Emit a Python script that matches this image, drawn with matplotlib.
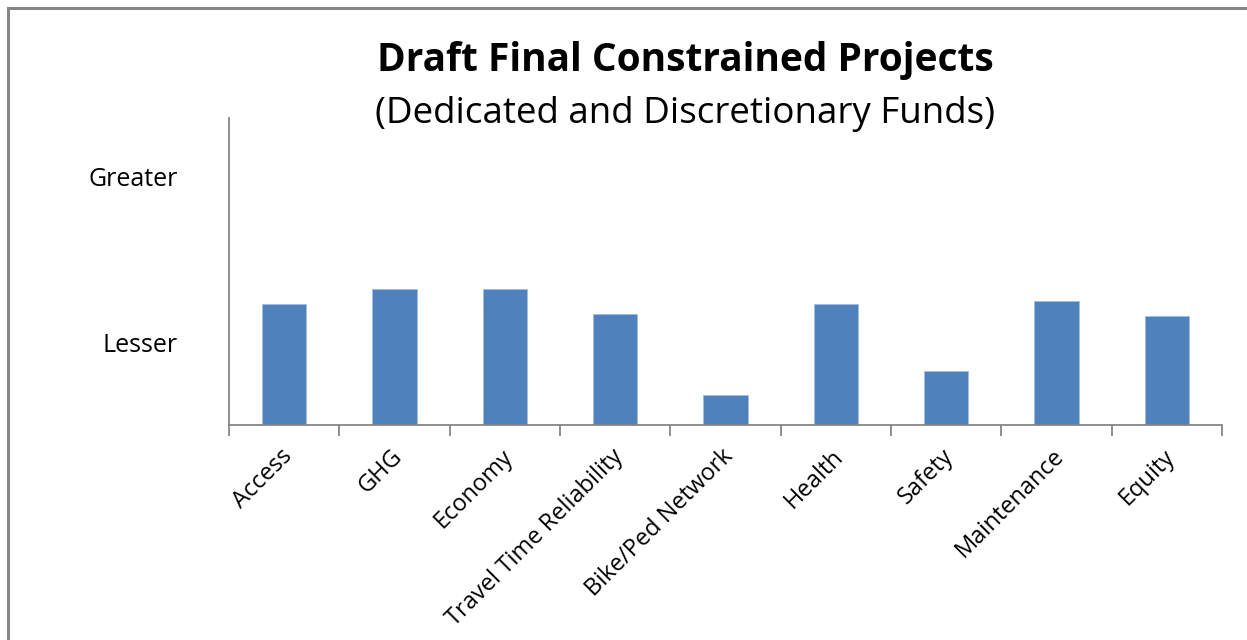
import matplotlib
matplotlib.use("Agg")
import matplotlib.pyplot as plt
from matplotlib.patches import Rectangle
import numpy as np

categories = ["Access", "GHG", "Economy", "Travel Time Reliability", "Bike/Ped Network",
              "Health", "Safety", "Maintenance", "Equity"]
scores = [1.46, 1.64, 1.64, 1.34, 0.36, 1.46, 0.65, 1.49, 1.31]
level_values = [1, 3]
level_labels = ["Lesser", "Greater"]

plt.rcParams["font.family"] = ["Open Sans", "DejaVu Sans"]

fig = plt.figure(figsize=(12.47, 6.4), dpi=100)
fig.patch.set_facecolor("white")

# outer chart frame
fig.patches.append(Rectangle((8 / 1247, -0.1), 1.2, (640 - 8) / 640 + 0.1,
                             transform=fig.transFigure, fill=False,
                             edgecolor="#868686", linewidth=2.2))

ax = fig.add_axes([229 / 1247, (640 - 425) / 640, (1222 - 229) / 1247, (425 - 118) / 640])
x = np.arange(len(categories))
ax.bar(x, scores, width=0.4, color="#4F81BD", edgecolor="#A7BEDE", linewidth=0.6, zorder=2)

ax.set_xlim(-0.5, len(categories) - 0.5)
ax.set_ylim(0, 3.7)

for s in ["top", "right"]:
    ax.spines[s].set_visible(False)
for s in ["left", "bottom"]:
    ax.spines[s].set_color("#868686")
    ax.spines[s].set_linewidth(1.3)

# boundary ticks between categories
ax.set_xticks(np.arange(len(categories) + 1) - 0.5, minor=False)
ax.set_xticklabels([])
ax.tick_params(axis="x", length=8, width=1.3, color="#868686", direction="out")
for xi, name in zip(x, categories):
    ax.annotate(name, xy=(xi, 0), xycoords=("data", "axes fraction"),
                xytext=(-3, -14), textcoords="offset points",
                rotation=45, ha="right", va="top", rotation_mode="anchor",
                fontsize=17, color="black")

ax.set_yticks(level_values)
ax.set_yticklabels(level_labels, fontsize=18)
ax.tick_params(axis="y", length=0, pad=37)

fig.text(685 / 1247, 1 - 60 / 640, "Draft Final Constrained Projects",
         ha="center", va="center", fontsize=28, fontweight="bold")
fig.text(685 / 1247, 1 - 114 / 640, "(Dedicated and Discretionary Funds)",
         ha="center", va="center", fontsize=26.5)

fig.savefig("out.png", dpi=100, facecolor="white")
